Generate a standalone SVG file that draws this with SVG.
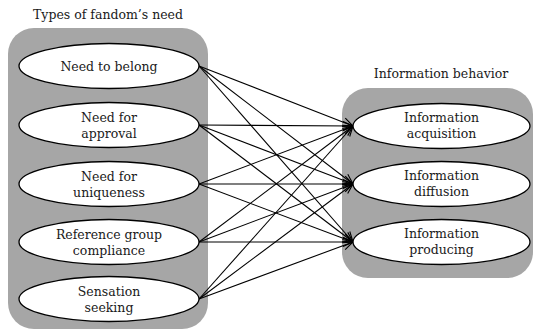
<svg xmlns="http://www.w3.org/2000/svg" width="533" height="333" viewBox="0 0 533 333">
<style>
.panel{fill:#a6a6a6;stroke:none}
.node ellipse{fill:#fff;stroke:#000;stroke-width:1.3}
text{font-family:'DejaVu Serif',serif;fill:#1a1a1a;text-anchor:middle}
.t{font-size:12.5px}
.n{font-size:12.5px}
#connectors line{stroke:#000;stroke-width:1.1;marker-end:url(#arr)}
</style>
<defs>
<marker id="arr" viewBox="0 0 12 12" refX="11" refY="6" markerWidth="12" markerHeight="12" markerUnits="userSpaceOnUse" orient="auto">
<path d="M1,1.5 L11,6 L1,10.5" fill="none" stroke="#000" stroke-width="1.1"/>
</marker>
</defs>
<rect class="panel" x="8" y="28" width="200" height="301" rx="26" ry="26"/>
<rect class="panel" x="342" y="88" width="191" height="190" rx="26" ry="26"/>
<text class="t" x="108" y="19">Types of fandom’s need</text>
<text class="t" x="441" y="78">Information behavior</text>
<g id="connectors">
<line x1="199" y1="66" x2="353" y2="126"/>
<line x1="199" y1="66" x2="353" y2="184"/>
<line x1="199" y1="66" x2="353" y2="242"/>
<line x1="199" y1="125" x2="353" y2="126"/>
<line x1="199" y1="125" x2="353" y2="184"/>
<line x1="199" y1="125" x2="353" y2="242"/>
<line x1="199" y1="184" x2="353" y2="126"/>
<line x1="199" y1="184" x2="353" y2="184"/>
<line x1="199" y1="184" x2="353" y2="242"/>
<line x1="199" y1="242" x2="353" y2="126"/>
<line x1="199" y1="242" x2="353" y2="184"/>
<line x1="199" y1="242" x2="353" y2="242"/>
<line x1="199" y1="299" x2="353" y2="126"/>
<line x1="199" y1="299" x2="353" y2="184"/>
<line x1="199" y1="299" x2="353" y2="242"/>
</g>
<g id="need-belong" class="node"><ellipse cx="109" cy="66" rx="90" ry="22.5"/><text class="n" x="109" y="71">Need to belong</text></g>
<g id="need-approval" class="node"><ellipse cx="109" cy="125" rx="90" ry="22.5"/><text class="n" x="109" y="121.5">Need for</text><text class="n" x="109" y="137.5">approval</text></g>
<g id="need-uniqueness" class="node"><ellipse cx="109" cy="184" rx="90" ry="22.5"/><text class="n" x="109" y="180.5">Need for</text><text class="n" x="109" y="196.5">uniqueness</text></g>
<g id="ref-group" class="node"><ellipse cx="109" cy="242" rx="90" ry="22.5"/><text class="n" x="109" y="238.5">Reference group</text><text class="n" x="109" y="254.5">compliance</text></g>
<g id="sensation" class="node"><ellipse cx="109" cy="299" rx="90" ry="22.5"/><text class="n" x="109" y="295.5">Sensation</text><text class="n" x="109" y="311.5">seeking</text></g>
<g id="info-acq" class="node"><ellipse cx="441.5" cy="126" rx="88.5" ry="22.5"/><text class="n" x="441.5" y="122">Information</text><text class="n" x="441.5" y="138">acquisition</text></g>
<g id="info-diff" class="node"><ellipse cx="441.5" cy="184" rx="88.5" ry="22.5"/><text class="n" x="441.5" y="180">Information</text><text class="n" x="441.5" y="196">diffusion</text></g>
<g id="info-prod" class="node"><ellipse cx="441.5" cy="242" rx="88.5" ry="22.5"/><text class="n" x="441.5" y="238">Information</text><text class="n" x="441.5" y="254">producing</text></g>
</svg>
